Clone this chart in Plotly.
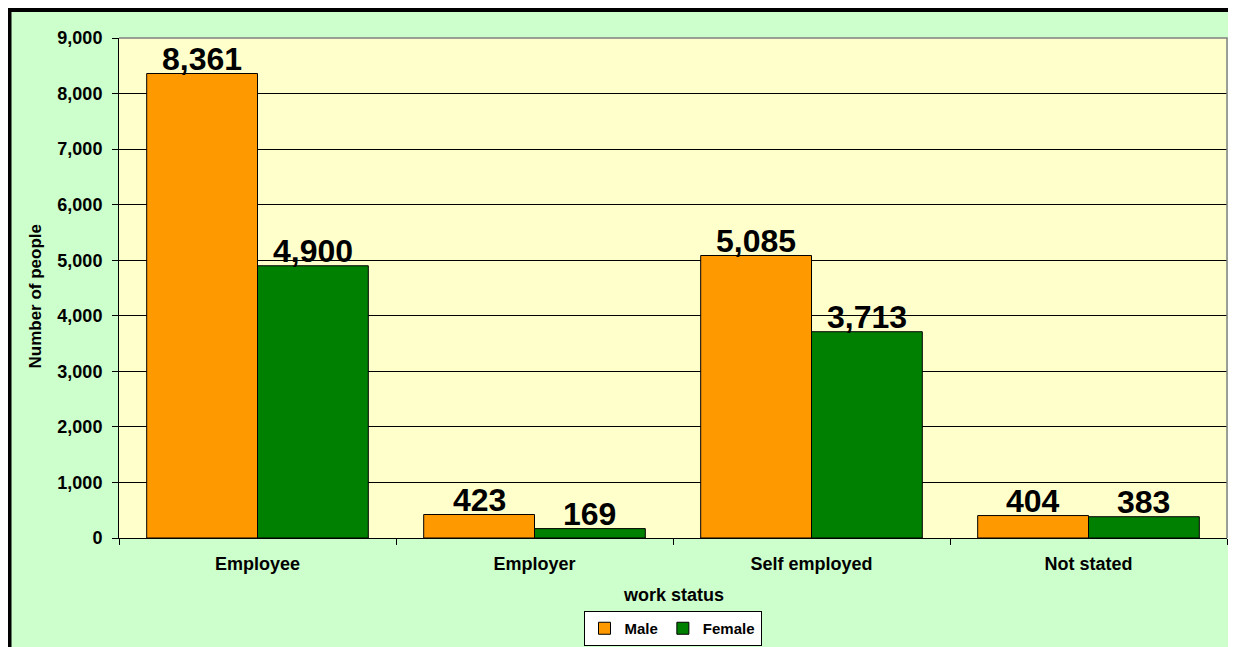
import plotly.graph_objects as go

categories = ["Employee", "Employer", "Self employed", "Not stated"]
male = [8361, 423, 5085, 404]
female = [4900, 169, 3713, 383]
y_ticks = [0, 1000, 2000, 3000, 4000, 5000, 6000, 7000, 8000, 9000]

# the page adds an 8px body margin, so the figure is sized to fit the window
OFF = 8
W, H = 1236 - OFF, 647 - OFF
L, R, T, B = 111, 9, 30, 109
PW, PH = W - L - R, H - T - B
BARGAP = 0.2


def px(xp):
    """page pixel x -> paper x"""
    return (xp - OFF - L) / PW


def py(yp):
    """page pixel y -> paper y"""
    return (H - B - (yp - OFF)) / PH


FONT = "Arial, Liberation Sans, sans-serif"
label_font = dict(family=FONT, size=32, color="black", weight="bold")

fig = go.Figure()
fig.add_trace(go.Bar(
    name="Male", x=categories, y=male,
    marker=dict(color="#FF9900", line=dict(color="black", width=1)),
))
fig.add_trace(go.Bar(
    name="Female", x=categories, y=female,
    marker=dict(color="#008000", line=dict(color="black", width=1)),
))

# value labels sitting right on top of each bar
group_px = PW / len(categories)
bar_px = group_px * (1 - BARGAP) / 2
annotations = []
for series, shift in ((male, -bar_px / 2), (female, bar_px / 2)):
    for cat, val in zip(categories, series):
        annotations.append(dict(
            x=cat, y=val, xref="x", yref="y", text=f"{val:,}",
            xshift=shift, yshift=-5, xanchor="center", yanchor="bottom",
            showarrow=False, font=label_font,
        ))

annotations += [
    dict(text="work status", xref="paper", yref="paper", x=0.5, y=py(595),
         xanchor="center", yanchor="middle", showarrow=False,
         font=dict(family=FONT, size=18, color="black", weight="bold")),
    dict(text="Number of people", xref="paper", yref="paper", x=px(34.5), y=py(296),
         xanchor="center", yanchor="middle", textangle=-90, showarrow=False,
         font=dict(family=FONT, size=17, color="black", weight="bold")),
]

fig.update_layout(
    width=W, height=H,
    margin=dict(l=L, r=R, t=T, b=B, autoexpand=False),
    paper_bgcolor="#CCFFCC",
    plot_bgcolor="#FFFFCC",
    barmode="group", bargap=BARGAP, bargroupgap=0,
    font=dict(family=FONT, color="black"),
    showlegend=True,
    legend=dict(
        orientation="h", x=px(672.5), xanchor="center",
        yref="container", y=1 - (611 - OFF) / H, yanchor="top",
        bgcolor="white", bordercolor="black", borderwidth=1,
        font=dict(family=FONT, size=15, color="black", weight="bold"),
        itemwidth=30, tracegroupgap=0,
    ),
    xaxis=dict(
        automargin=False,
        showline=True, linecolor="black", linewidth=1,
        ticks="outside", ticklen=6, tickcolor="black", tickson="boundaries",
        tickfont=dict(family=FONT, size=18, color="black", weight="bold"),
        ticklabelstandoff=9,
        showgrid=False,
    ),
    yaxis=dict(
        automargin=False,
        range=[0, 9000], tickvals=y_ticks, tickformat=",",
        showline=True, linecolor="black", linewidth=1,
        ticks="outside", ticklen=6, tickcolor="black",
        tickfont=dict(family=FONT, size=18, color="black", weight="bold"),
        ticklabelstandoff=6,
        showgrid=True, gridcolor="black", gridwidth=1,
        zeroline=False,
    ),
    shapes=[
        # thick black chart frame (top and left edges)
        dict(type="line", xref="paper", yref="paper",
             x0=px(6), x1=px(1300), y0=py(10), y1=py(10),
             line=dict(color="black", width=4), layer="below"),
        dict(type="line", xref="paper", yref="paper",
             x0=px(9.5), x1=px(9.5), y0=py(6), y1=py(700),
             line=dict(color="black", width=4), layer="below"),
        # grey plot-area border (top and right)
        dict(type="path", xref="paper", yref="paper",
             path="M 0,1 L 1,1 L 1,0", line=dict(color="#808080", width=1.5), layer="above"),
    ],
    annotations=annotations,
)

fig.write_html("out.html")
